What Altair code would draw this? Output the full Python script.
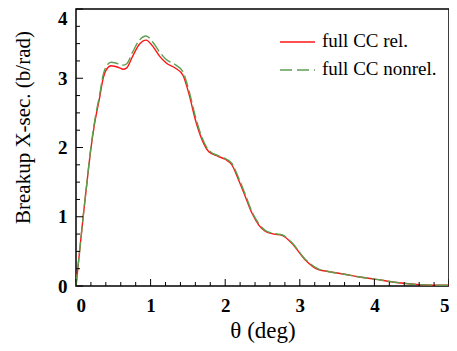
import altair as alt
import pandas as pd

theta = [0, 0.05, 0.10, 0.15, 0.19, 0.25, 0.32, 0.36, 0.41, 0.47, 0.53, 0.585, 0.63, 0.68,
         0.76, 0.85, 0.94, 1.03, 1.12, 1.21, 1.34, 1.43, 1.52, 1.60, 1.69, 1.78, 1.91, 2.0,
         2.09, 2.18, 2.27, 2.36, 2.45, 2.54, 2.65, 2.76, 2.89, 3.07, 3.24, 3.38, 3.6, 3.8,
         4.0, 4.3, 4.6, 5.0]
rel = [0, 0.52, 1.04, 1.52, 1.9, 2.35, 2.74, 2.98, 3.13, 3.18, 3.17, 3.15, 3.13, 3.15,
       3.32, 3.49, 3.55, 3.46, 3.32, 3.22, 3.14, 3.05, 2.75, 2.40, 2.11, 1.94, 1.87, 1.83,
       1.75, 1.53, 1.29, 1.05, 0.88, 0.79, 0.75, 0.73, 0.62, 0.38, 0.24, 0.21, 0.17, 0.13,
       0.10, 0.05, 0.02, 0.01]
nonrel = [0, 0.52, 1.04, 1.53, 1.92, 2.38, 2.78, 3.03, 3.18, 3.23, 3.22, 3.20, 3.19, 3.21,
          3.38, 3.55, 3.61, 3.52, 3.38, 3.27, 3.19, 3.10, 2.80, 2.45, 2.14, 1.96, 1.88, 1.84,
          1.77, 1.56, 1.32, 1.07, 0.90, 0.80, 0.76, 0.74, 0.63, 0.39, 0.25, 0.21, 0.17, 0.13,
          0.10, 0.05, 0.02, 0.01]
series_names = ["full CC rel.", "full CC nonrel."]
x_major = [0, 1, 2, 3, 4, 5]
x_minor = [round(i * 0.2, 2) for i in range(26) if i % 5 != 0]
y_major = [0, 1, 2, 3, 4]
y_minor = [i * 0.25 for i in range(17) if i % 4 != 0]

W, H = 373, 277
RED = "#ff1414"
GREEN = "#5e9e50"
FONT = "Liberation Serif, Times New Roman, serif"

df_rel = pd.DataFrame({"theta": theta, "sigma": rel})
df_non = pd.DataFrame({"theta": theta, "sigma": nonrel})

xs = alt.Scale(domain=[0, 5], nice=False)
ys = alt.Scale(domain=[0, 4], nice=False)

xaxis = alt.Axis(values=x_major, title="θ (deg)", format="d", domain=False, ticks=False,
                 grid=False, labelFont=FONT, labelFontSize=19, labelFontWeight="bold",
                 labelColor="black", labelPadding=10, titleFont=FONT, titleFontSize=23,
                 titleFontWeight="normal", titleColor="black", titlePadding=4)
yaxis = alt.Axis(values=y_major, title="Breakup X-sec. (b/rad)", format="d", domain=False,
                 ticks=False, grid=False, labelFont=FONT, labelFontSize=19,
                 labelFontWeight="bold", labelColor="black", labelPadding=9,
                 labelOffset={"condition": {"test": "datum.value == 4", "value": 9}, "value": 0},
                 titleFont=FONT, titleFontSize=21, titleFontWeight="normal",
                 titleColor="black", titlePadding=24, titleY=118)

line_rel = alt.Chart(df_rel).mark_line(color=RED, strokeWidth=1.4, interpolate="monotone").encode(
    x=alt.X("theta:Q", scale=xs, axis=xaxis),
    y=alt.Y("sigma:Q", scale=ys, axis=yaxis),
)
line_non = alt.Chart(df_non).mark_line(color=GREEN, strokeWidth=1.4, strokeDash=[12, 4],
                                       interpolate="monotone").encode(
    x=alt.X("theta:Q", scale=xs),
    y=alt.Y("sigma:Q", scale=ys),
)

def xticks(vals, length):
    return alt.Chart(pd.DataFrame({"t": vals})).mark_rule(color="black", strokeWidth=1).encode(
        x=alt.X("t:Q", scale=xs), y=alt.value(H), y2=alt.value(H - length))

def yticks(vals, length):
    return alt.Chart(pd.DataFrame({"t": vals})).mark_rule(color="black", strokeWidth=1).encode(
        y=alt.Y("t:Q", scale=ys), x=alt.value(0), x2=alt.value(length))

leg_df = pd.DataFrame({"a": [0]})
leg_rel_line = alt.Chart(leg_df).mark_rule(color=RED, strokeWidth=1.4).encode(
    x=alt.value(204), x2=alt.value(239), y=alt.value(33))
leg_non_line = alt.Chart(leg_df).mark_rule(color=GREEN, strokeWidth=1.4, strokeDash=[12, 5]).encode(
    x=alt.value(204), x2=alt.value(239), y=alt.value(61))
leg_rel_txt = alt.Chart(leg_df).mark_text(align="left", baseline="middle", font=FONT,
                                           fontSize=19, color="black").encode(
    x=alt.value(246), y=alt.value(32), text=alt.value(series_names[0]))
leg_non_txt = alt.Chart(leg_df).mark_text(align="left", baseline="middle", font=FONT,
                                           fontSize=19, color="black").encode(
    x=alt.value(246), y=alt.value(60), text=alt.value(series_names[1]))

chart = alt.layer(
    line_rel, line_non,
    xticks(x_major, 7), xticks(x_minor, 4), yticks(y_major, 7), yticks(y_minor, 4),
    leg_rel_line, leg_non_line, leg_rel_txt, leg_non_txt,
).properties(
    width=W, height=H,
    autosize=alt.AutoSizeParams(type="none"),
    padding={"left": 68, "top": 1, "right": 0, "bottom": 57},
    background="white",
).configure_view(stroke="black", strokeWidth=1.5)

chart.save("out.html", embed_options={"renderer": "svg", "actions": False})
